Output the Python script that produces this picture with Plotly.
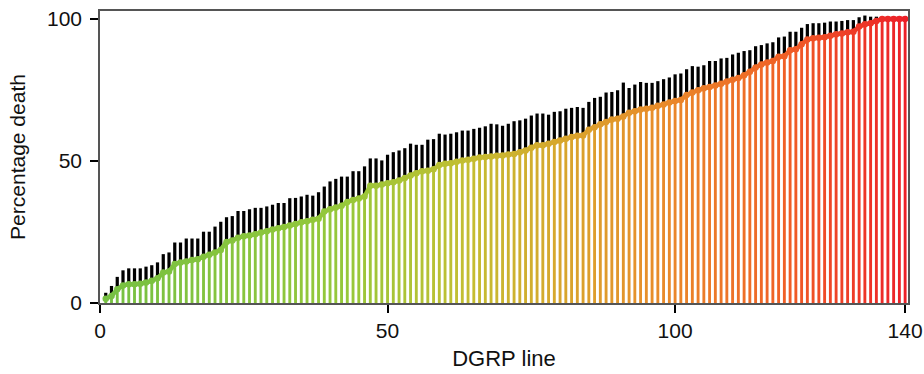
import plotly.graph_objects as go

# ---------------- data ----------------
dgrp_line = list(range(1, 141))

mean_death = [
    1.5, 2.5, 4.8, 6.2, 6.6, 6.6, 6.8, 7.2, 7.8, 8.7, 10.7, 11.1, 13.7, 14.3, 14.6, 15.1, 15.4, 16.3, 17.0, 17.8, 18.7,
    21.5, 22.0, 23.0, 23.5, 23.8, 24.2, 24.8, 25.3, 25.9, 26.3, 26.8, 27.3, 27.8, 28.4, 28.8, 29.3, 29.7, 32.2, 33.0,
    33.6, 34.2, 35.6, 36.3, 36.8,
    37.5, 41.3, 41.3, 41.7, 42.2, 42.5, 43.1, 44.0, 44.9, 45.7, 46.4, 46.6, 47.1, 48.6, 49.0, 49.2, 49.7, 50.2, 50.4,
    50.8, 51.2, 51.4, 51.6,
    51.8, 51.9, 52.3, 52.5, 53.1, 53.7, 54.7, 55.5, 55.5, 56.1, 56.7, 57.2, 57.8, 58.4, 58.9, 59.0, 61.0, 61.9, 62.9,
    63.7, 64.6, 64.9, 65.7,
    67.0, 67.5, 68.1, 68.4, 68.7, 69.4, 69.9, 70.6, 71.1, 71.5, 73.2, 74.1, 74.9, 75.6, 76.0, 76.6, 77.2, 78.0, 78.6,
    79.2, 80.2, 81.4, 82.9,
    84.0, 84.7, 85.2, 86.7, 86.9, 89.0, 89.3, 91.1, 92.8, 93.2, 93.4, 93.6, 94.1, 94.6, 94.9, 95.3, 95.5, 97.3, 98.1,
    98.5, 99.3, 100.0, 100.0, 100.0, 100.0, 100.0,
]

upper_death = [
    3.6, 6.0, 9.2, 11.5, 12.2, 12.2, 12.2, 12.8, 13.3, 14.3, 17.2, 17.8, 21.3, 21.3, 22.7, 22.7, 22.7, 25.1, 25.1, 26.9, 28.6,
    30.2, 30.6, 32.4, 32.4, 33.0, 33.5, 33.5, 34.0, 34.6, 35.2, 35.2, 36.9, 37.0, 37.5, 38.1, 37.8, 39.0, 41.0, 42.8,
    43.7, 44.5, 44.5, 46.4, 46.4,
    48.1, 50.9, 50.9, 50.2, 52.2, 53.1, 53.7, 54.5, 56.1, 55.7, 55.7, 57.5, 57.7, 59.6, 59.3, 59.6, 60.1, 60.7, 60.7,
    61.3, 61.7, 62.2, 63.1,
    62.9, 62.4, 63.1, 64.0, 64.3, 64.9, 66.0, 66.7, 66.7, 66.3, 67.3, 67.5, 68.4, 68.7, 69.0, 68.7, 70.8, 72.2, 72.6,
    74.1, 74.3, 74.9, 77.6,
    75.7, 76.9, 77.8, 77.5, 77.5, 78.1, 78.8, 79.4, 80.5, 80.8, 82.3, 83.4, 83.2, 83.7, 85.2, 85.2, 86.1, 86.3, 87.5,
    88.1, 88.7, 89.0, 90.4,
    90.8, 91.4, 91.8, 93.5, 93.8, 95.5, 95.5, 96.9, 98.2, 98.5, 98.5, 98.7, 99.1, 99.1, 99.3, 99.6, 99.6, 100.6, 101.2,
    100.8, 100.8, 100.0, 100.0, 100.0, 100.0, 100.0,
]

x_ticks = [0, 50, 100, 140]
y_ticks = [0, 50, 100]

# ---------------- styling ----------------
err_death = [max(u - m, 0.0) for u, m in zip(upper_death, mean_death)]

stops = [
    (0.00, (118, 192, 66)),
    (0.30, (150, 200, 58)),
    (0.45, (195, 190, 50)),
    (0.55, (212, 170, 45)),
    (0.70, (233, 138, 42)),
    (0.85, (240, 95, 38)),
    (1.00, (236, 32, 40)),
]


def ramp(t):
    for (t0, c0), (t1, c1) in zip(stops[:-1], stops[1:]):
        if t <= t1:
            f = (t - t0) / (t1 - t0) if t1 > t0 else 0
            return "rgb(%d,%d,%d)" % tuple(round(a + (b - a) * f) for a, b in zip(c0, c1))
    return "rgb(%d,%d,%d)" % stops[-1][1]


n = len(dgrp_line)
colors = [ramp(i / (n - 1)) for i in range(n)]

fig = go.Figure()

fig.add_trace(go.Bar(
    x=dgrp_line, y=mean_death, width=0.5,
    marker=dict(color=colors, line=dict(width=0)),
    showlegend=False, hoverinfo="skip",
))
fig.add_trace(go.Bar(
    x=dgrp_line, y=err_death, base=mean_death, width=0.56,
    marker=dict(color="black", line=dict(width=0)),
    showlegend=False, hoverinfo="skip",
))

for i in range(n - 1):
    fig.add_trace(go.Scatter(
        x=dgrp_line[i:i + 2], y=mean_death[i:i + 2], mode="lines",
        line=dict(color=colors[i], width=4.5),
        showlegend=False, hoverinfo="skip",
    ))
fig.add_trace(go.Scatter(
    x=dgrp_line, y=mean_death, mode="markers",
    marker=dict(color=colors, size=6.5, line=dict(width=0)),
    showlegend=False, hoverinfo="skip",
))

font_family = "Liberation Sans, Arial, Helvetica, sans-serif"

fig.update_layout(
    width=924, height=374,
    margin=dict(l=100, r=16, t=11, b=71),
    paper_bgcolor="white", plot_bgcolor="white",
    barmode="overlay",
    font=dict(family=font_family, size=21, color="#111"),
    xaxis=dict(
        range=[0, 140.5], tickvals=x_ticks, ticktext=[str(v) for v in x_ticks],
        ticks="outside", ticklen=8, tickwidth=2, tickcolor="black",
        showline=True, linecolor="#555", linewidth=1.5, mirror=True,
        showgrid=False, zeroline=False, automargin=False,
        title=dict(text="DGRP line", font=dict(size=22), standoff=10),
        tickfont=dict(size=21),
    ),
    yaxis=dict(
        range=[0, 102.8], tickvals=y_ticks, ticktext=[str(v) for v in y_ticks],
        ticks="outside", ticklen=8, tickwidth=2, tickcolor="black",
        showline=True, linecolor="#555", linewidth=1.5, mirror=True,
        showgrid=False, zeroline=False, automargin=False,
        ticklabelstandoff=4,
        title=dict(text="Percentage death", font=dict(size=21), standoff=16),
        tickfont=dict(size=21),
    ),
)

fig.write_html("out.html")
